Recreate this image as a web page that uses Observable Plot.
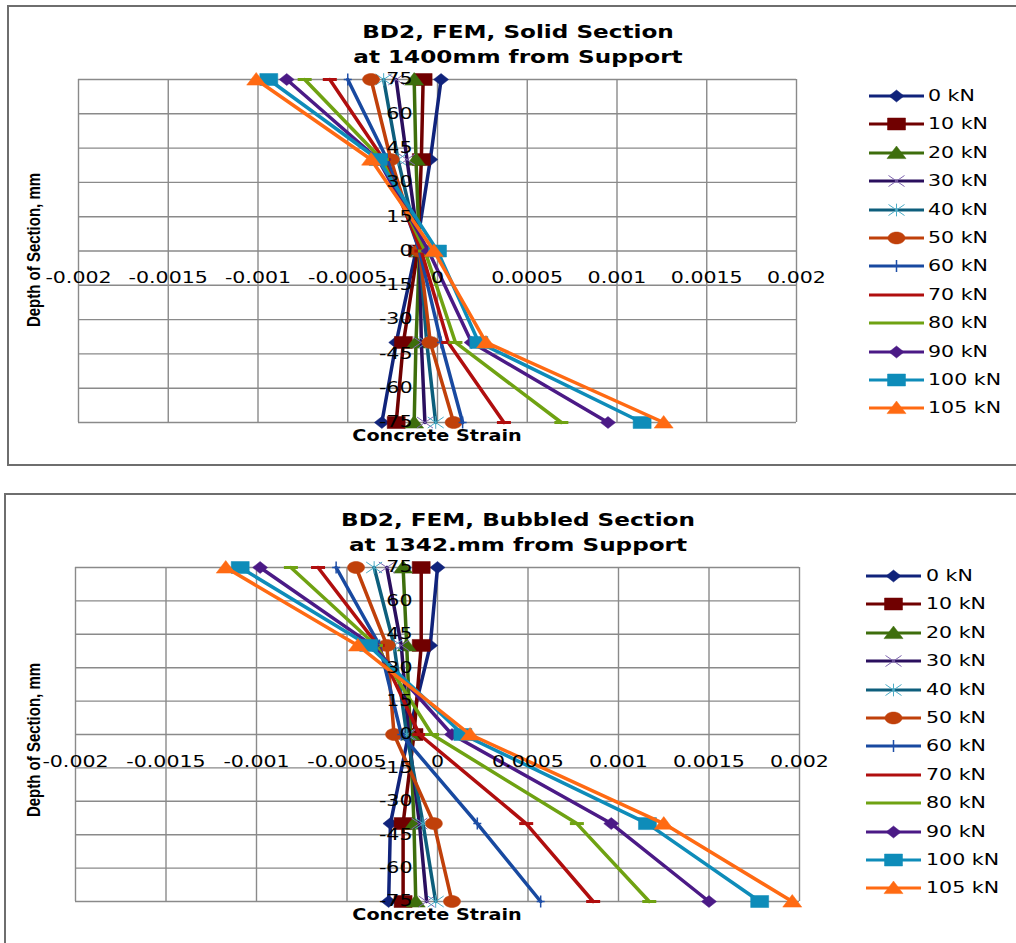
<!DOCTYPE html>
<html><head><meta charset="utf-8">
<script src="https://cdn.jsdelivr.net/npm/d3@7"></script>
<script src="https://cdn.jsdelivr.net/npm/@observablehq/plot@0.6"></script>
<style>
body{margin:0;background:#fff;overflow:hidden;}
#root{position:relative;width:1016px;height:943px;overflow:hidden;font-family:"DejaVu Sans",sans-serif;}
.frame{position:absolute;border:2px solid #6e6e6e;box-sizing:border-box;}
.t{position:absolute;white-space:nowrap;color:#000;line-height:1;}
.chart{position:absolute;left:0;}
</style></head><body><div id="root"></div>
<script>
// ---------- data ----------
const loads = ["0 kN","10 kN","20 kN","30 kN","40 kN","50 kN","60 kN","70 kN","80 kN","90 kN","100 kN","105 kN"];
const depths = [75, 40, 0, -40, -75];
const xTicks = [-0.002,-0.0015,-0.001,-0.0005,0,0.0005,0.001,0.0015,0.002];
const xTickLabels = ["-0.002","-0.0015","-0.001","-0.0005","0","0.0005","0.001","0.0015","0.002"];
const yTicks = [75,60,45,30,15,0,-15,-30,-45,-60,-75];
const yTickLabels = ["75","60","45","30","15","0","-15","-30","-45","-60","-75"];

const solid0kN   = [0.00002, -0.00004, -0.00012, -0.00023, -0.00031];
const solid10kN  = [-0.00008, -0.00009, -0.00011, -0.00019, -0.00023];
const solid20kN  = [-0.00013, -0.00012, -0.0001, -0.00012, -0.00013];
const solid30kN  = [-0.00023, -0.00017, -0.0001, -0.00009, -0.00007];
const solid40kN  = [-0.0003, -0.00022, -0.0001, -0.00006, -0.00001];
const solid50kN  = [-0.00037, -0.00026, -0.0001, -0.00004, 0.00009];
const solid60kN  = [-0.0005, -0.00028, -0.0001, 0.00002, 0.00014];
const solid70kN  = [-0.0006, -0.0003, -0.00009, 0.00006, 0.00037];
const solid80kN  = [-0.00074, -0.00031, -0.00007, 0.0001, 0.00069];
const solid90kN  = [-0.00084, -0.00033, -0.00005, 0.00019, 0.00095];
const solid100kN = [-0.00094, -0.00033, 0.0, 0.00023, 0.00114];
const solid105kN = [-0.00101, -0.00037, -0.00002, 0.00027, 0.00126];

const bub0kN   = [0.0, -0.00004, -0.00016, -0.00026, -0.00027];
const bub10kN  = [-0.00009, -0.00009, -0.00013, -0.00019, -0.00019];
const bub20kN  = [-0.00019, -0.00017, -0.00015, -0.00013, -0.00012];
const bub30kN  = [-0.00028, -0.0002, -0.00016, -0.0001, -0.00006];
const bub40kN  = [-0.00035, -0.00024, -0.00017, -0.00008, -0.00001];
const bub50kN  = [-0.00045, -0.00028, -0.00024, -0.00002, 0.00008];
const bub60kN  = [-0.00056, -0.00032, -0.0002, 0.00022, 0.00057];
const bub70kN  = [-0.00066, -0.00033, -0.0001, 0.00049, 0.00086];
const bub80kN  = [-0.00081, -0.00034, -0.00003, 0.00077, 0.00117];
const bub90kN  = [-0.00098, -0.00036, 0.00008, 0.00096, 0.0015];
const bub100kN = [-0.00109, -0.00038, 0.00014, 0.00116, 0.00178];
const bub105kN = [-0.00117, -0.00044, 0.00018, 0.00125, 0.00196];

const solidSeries = [solid0kN,solid10kN,solid20kN,solid30kN,solid40kN,solid50kN,solid60kN,solid70kN,solid80kN,solid90kN,solid100kN,solid105kN];
const bubSeries = [bub0kN,bub10kN,bub20kN,bub30kN,bub40kN,bub50kN,bub60kN,bub70kN,bub80kN,bub90kN,bub100kN,bub105kN];

// ---------- styles ----------
const lineColors = ["#10237B","#700000","#3E6E0C","#2A0F5E","#0D5E7C","#C0400A","#1849A0","#B00E0E","#6FA212","#4B1A86","#0E8CB9","#FF6A13"];
const markerKinds = ["diamond","square","triangle","times","asterisk","ellipse","plus","dash","dash","diamond","square","triangle"];
const markerStroke = ["#10237B","#700000","#3E6E0C","#7F66B0","#4BACC6","#C0400A","#1F4FA8","#B00E0E","#6FA212","#4B1A86","#0E8CB9","#FF6A13"];
const SX = 1.37;
const LW = 3.5;

function sym(kind) {
  const dims = {diamond:[7.5,6], square:[9,6], triangle:[9.5,7], ellipse:[8.5,6], times:[8,5.5], asterisk:[8,5.5], plus:[4,6], dash:[7,0]};
  const [w,h] = dims[kind];
  return {draw(ctx) {
    switch (kind) {
      case "diamond": ctx.moveTo(0,-h); ctx.lineTo(w,0); ctx.lineTo(0,h); ctx.lineTo(-w,0); ctx.closePath(); break;
      case "square": ctx.moveTo(-w,-h); ctx.lineTo(w,-h); ctx.lineTo(w,h); ctx.lineTo(-w,h); ctx.closePath(); break;
      case "triangle": ctx.moveTo(0,-h); ctx.lineTo(w,h*0.8); ctx.lineTo(-w,h*0.8); ctx.closePath(); break;
      case "ellipse": for (let k=0;k<32;k++){const a=k/32*2*Math.PI;const px=w*Math.cos(a),py=h*Math.sin(a); if(k) ctx.lineTo(px,py); else ctx.moveTo(px,py);} ctx.closePath(); break;
      case "times": ctx.moveTo(-w,-h); ctx.lineTo(w,h); ctx.moveTo(-w,h); ctx.lineTo(w,-h); break;
      case "asterisk": ctx.moveTo(-w,-h); ctx.lineTo(w,h); ctx.moveTo(-w,h); ctx.lineTo(w,-h); ctx.moveTo(0,-h*1.15); ctx.lineTo(0,h*1.15); break;
      case "plus": ctx.moveTo(0,-h); ctx.lineTo(0,h); ctx.moveTo(-w,0); ctx.lineTo(w,0); break;
      case "dash": ctx.moveTo(-w,0); ctx.lineTo(w,0); break;
    }
  }};
}
const filledKinds = new Set(["diamond","square","triangle","ellipse"]);
function markerStyle(i) {
  const k = markerKinds[i];
  if (filledKinds.has(k)) return {fill: lineColors[i], stroke: lineColors[i], strokeWidth: 0.5};
  if (k === "dash") return {fill: "none", stroke: lineColors[i], strokeWidth: 3};
  if (k === "plus") return {fill: "none", stroke: markerStroke[i], strokeWidth: 1.5};
  return {fill: "none", stroke: markerStroke[i], strokeWidth: 1};
}

const root = document.getElementById("root");

function addText(str, cx, cy, o) {
  const d = document.createElement("div");
  d.className = "t";
  d.textContent = str;
  d.style.left = cx + "px"; d.style.top = cy + "px";
  d.style.fontSize = (o.size || 15) + "px";
  d.style.fontWeight = o.weight || "normal";
  d.style.fontFamily = o.family || '"DejaVu Sans", sans-serif';
  if (o.rotate) d.style.transform = `translate(-50%,-50%) rotate(-90deg) scale(1,${o.sy||1})`;
  else if (o.left) { d.style.transformOrigin = "0 50%"; d.style.transform = `translate(0,-50%) scaleX(${o.sx||1})`; }
  else d.style.transform = `translate(-50%,-50%) scaleX(${o.sx||1})`;
  root.appendChild(d);
}

function stretchText(t) {
  t.style.fontSize = "15px";
  t.style.fontFamily = '"DejaVu Sans", sans-serif';
  t.style.fill = "#000";
  const tr = t.getAttribute("transform");
  if (tr) {
    t.setAttribute("transform", tr + ` scale(${SX},1)`);
  } else {
    const x = +(t.getAttribute("x") || 0), y = +(t.getAttribute("y") || 0);
    t.removeAttribute("x"); t.removeAttribute("y");
    t.setAttribute("transform", `translate(${x},${y}) scale(${SX},1)`);
  }
}

function makeChart(series, cfg) {
  const marks = [
    Plot.ruleX(xTicks, {x: d => d, stroke: "#8a8a8a", strokeWidth: 1.4}),
    Plot.ruleY(yTicks, {y: d => d, stroke: "#8a8a8a", strokeWidth: 1.4})
  ];
  series.forEach((vals, i) => {
    const data = depths.map((d, j) => ({strain: vals[j], depth: d}));
    marks.push(Plot.line(data, {x: "strain", y: "depth", stroke: lineColors[i], strokeWidth: LW}));
    marks.push(Plot.dot(data, {x: "strain", y: "depth", symbol: sym(markerKinds[i]), ...markerStyle(i)}));
  });
  marks.push(Plot.text(xTicks, {x: d => d, y: () => 0, text: (d, i) => xTickLabels[i], dy: cfg.xdy, fontSize: 15, fill: "#000"}));
  marks.push(Plot.text(yTicks, {x: () => 0, y: d => d, text: (d, i) => yTickLabels[i], dx: -25, textAnchor: "end", fontSize: 15, fill: "#000"}));
  const svg = Plot.plot({
    width: 830, height: cfg.height,
    marginLeft: cfg.ml, marginRight: 830 - cfg.right, marginTop: cfg.mt, marginBottom: cfg.mb,
    x: {domain: [-0.002, 0.002], axis: null},
    y: {domain: [-75, 75], axis: null},
    style: {overflow: "visible", background: "transparent"},
    marks
  });
  svg.querySelectorAll("text").forEach(stretchText);
  const wrap = document.createElement("div");
  wrap.className = "chart";
  wrap.style.top = cfg.top + "px";
  wrap.appendChild(svg);
  root.appendChild(wrap);

  // legend
  loads.forEach((lab, i) => {
    const cy = cfg.legTop + i * 28.4;
    const s = d3.create("svg").attr("width", 62).attr("height", 20)
      .style("position", "absolute").style("left", (cfg.legLine - 3) + "px").style("top", (cy - 10) + "px").style("overflow", "visible");
    s.append("line").attr("x1", 3).attr("x2", 58).attr("y1", 10).attr("y2", 10).attr("stroke", lineColors[i]).attr("stroke-width", 3.2);
    const ms = markerStyle(i);
    if (markerKinds[i] !== "dash")
      s.append("path").attr("d", d3.symbol().type(sym(markerKinds[i]))()).attr("transform", "translate(30.5,10)")
        .attr("fill", ms.fill).attr("stroke", ms.stroke).attr("stroke-width", ms.strokeWidth);
    root.appendChild(s.node());
    addText(lab, cfg.legText, cy, {size: 15, sx: SX, left: true});
  });
}

// frames
[[7,5,1030,461],[4,493,1030,470]].forEach(([l,t,w,h]) => {
  const f = document.createElement("div"); f.className = "frame";
  f.style.left = l + "px"; f.style.top = t + "px"; f.style.width = w + "px"; f.style.height = h + "px";
  root.appendChild(f);
});

makeChart(solidSeries, {top: 0, height: 470, ml: 78, right: 796, mt: 79, mb: 48, xdy: 27, legTop: 96, legLine: 869, legText: 928});
makeChart(bubSeries, {top: 480, height: 463, ml: 75, right: 799, mt: 87, mb: 42, xdy: 28, legTop: 576, legLine: 866, legText: 926});

// titles and axis titles
addText("BD2, FEM, Solid Section", 518, 32, {size: 17, weight: "bold", sx: 1.36});
addText("at 1400mm from Support", 518, 57, {size: 17, weight: "bold", sx: 1.36});
addText("BD2, FEM, Bubbled Section", 518, 520, {size: 17, weight: "bold", sx: 1.36});
addText("at 1342.mm from Support", 518, 545, {size: 17, weight: "bold", sx: 1.36});
addText("Concrete Strain", 437, 436, {size: 15, weight: "bold", sx: 1.28});
addText("Concrete Strain", 437, 915, {size: 15, weight: "bold", sx: 1.28});
addText("Depth of Section, mm", 33, 250, {size: 15, weight: "bold", rotate: true, sy: 1.2, family: '"Liberation Sans", sans-serif'});
addText("Depth of Section, mm", 33, 740, {size: 15, weight: "bold", rotate: true, sy: 1.2, family: '"Liberation Sans", sans-serif'});
</script></body></html>
